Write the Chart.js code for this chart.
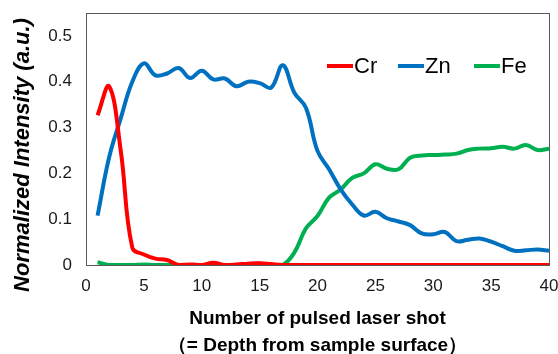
<!DOCTYPE html>
<html>
<head>
<meta charset="utf-8">
<script src="https://cdn.jsdelivr.net/npm/chart.js@4.4.1/dist/chart.umd.min.js"></script>
<style>
  html, body { margin: 0; padding: 0; background: #fff; }
  #wrap { width: 558px; height: 354px; }
</style>
</head>
<body>
<div id="wrap"><canvas id="depthChart"></canvas></div>
<script>
// laser shot number (x) and normalized intensities
const shots = [1,2,3,4,5,6,7,8,9,10,11,12,13,14,15,16,17,18,19,20,
               21,22,23,24,25,26,27,28,29,30,31,32,33,34,35,36,37,38,39,40];
const cr = [0.327,0.39,0.25,0.038,0.023,0.014,0.011,0.0,0.001,0.0,0.005,0.0,0.001,0.003,0.004,0.002,0.0,0.0,0.0,0.0,
            0,0,0,0,0,0,0,0,0,0,0,0,0,0,0,0,0,0,0,0];
const zn = [0.108,0.235,0.32,0.40,0.44,0.414,0.418,0.43,0.408,0.424,0.405,0.407,0.39,0.40,0.397,0.387,0.436,0.376,0.343,0.249,
            0.209,0.165,0.132,0.108,0.116,0.102,0.095,0.087,0.069,0.067,0.072,0.052,0.055,0.058,0.051,0.041,0.031,0.032,0.034,0.031];
const fe = [0.006,0.0,0.0,0.0,0.001,0.0,0.0,0.0,0.0,0.0,0.0,0.0,0.0,0.0,0.0,0.0,0.0,0.027,0.08,0.107,
            0.147,0.165,0.19,0.20,0.22,0.21,0.209,0.234,0.239,0.24,0.241,0.243,0.251,0.254,0.255,0.258,0.254,0.262,0.251,0.254];
const xTicks = [0,5,10,15,20,25,30,35,40];
const yTicks = [0,0.1,0.2,0.3,0.4,0.5];

function pts(vals) {
    return shots.map((s, i) => ({ x: s, y: vals[i] }));
}

// box around the plot area
const frame = {
    id: 'frame',
    beforeDatasetsDraw(chart) {
        const a = chart.chartArea, ctx = chart.ctx;
        ctx.save();
        ctx.strokeStyle = '#595959';
        ctx.lineWidth = 1;
        ctx.strokeRect(Math.round(a.left) + 0.5, Math.round(a.top) + 0.5,
                       Math.round(a.right - a.left), Math.round(a.bottom - a.top));
        ctx.restore();
    }
};

// y title and inside legend
const extras = {
    id: 'extras',
    afterDraw(chart) {
        const ctx = chart.ctx;
        ctx.save();
        ctx.fillStyle = '#000';
        ctx.font = 'italic bold 22px "Liberation Sans", Arial, sans-serif';
        ctx.textAlign = 'center';
        ctx.textBaseline = 'middle';
        ctx.translate(23, 155);
        ctx.rotate(-Math.PI / 2);
        ctx.fillText('Normalized Intensity (a.u.)', 0, 0);
        ctx.restore();

        ctx.save();
        ctx.font = '22px "Liberation Sans", Arial, sans-serif';
        ctx.textBaseline = 'middle';
        const starts = [327, 398, 474];
        chart.data.datasets.forEach((ds, i) => {
            const x = starts[i], y = 66;
            ctx.strokeStyle = ds.borderColor;
            ctx.lineWidth = 4;
            ctx.beginPath();
            ctx.moveTo(x, y);
            ctx.lineTo(x + 26, y);
            ctx.stroke();
            ctx.fillStyle = '#000';
            ctx.fillText(ds.label, x + 27, y + 1);
        });
        ctx.restore();
    }
};

const ctx = document.getElementById('depthChart').getContext('2d');
new Chart(ctx, {
    type: 'line',
    data: {
        datasets: [
            { label: 'Cr', data: pts(cr), borderColor: '#FF0000' },
            { label: 'Zn', data: pts(zn), borderColor: '#0070C0' },
            { label: 'Fe', data: pts(fe), borderColor: '#00B050' }
        ]
    },
    options: {
        responsive: true,
        maintainAspectRatio: false,
        animation: false,
        layout: { padding: { top: 13, right: 9, left: 0, bottom: 0 } },
        elements: {
            line: { borderWidth: 4, tension: 0.4, fill: false },
            point: { radius: 0 }
        },
        plugins: {
            legend: { display: false },
            tooltip: { enabled: false }
        },
        scales: {
            x: {
                type: 'linear',
                min: 0,
                max: 40,
                afterBuildTicks: (s) => { s.ticks = xTicks.map(v => ({ value: v })); },
                afterFit: (s) => { s.height = 89; s.paddingRight = 0; s.paddingLeft = 0; },
                grid: { display: false, drawTicks: false },
                border: { display: false },
                ticks: {
                    padding: 11,
                    color: '#1a1a1a',
                    font: { family: '"Liberation Sans", Arial, sans-serif', size: 17 }
                },
                title: {
                    display: true,
                    text: ['Number of pulsed laser shot', '（= Depth from sample surface）'],
                    color: '#000',
                    padding: { top: 0, bottom: -5 },
                    font: { family: '"Liberation Sans", Arial, sans-serif', size: 19, weight: 'bold', lineHeight: '27px' }
                }
            },
            y: {
                min: 0,
                max: 0.55,
                afterBuildTicks: (s) => { s.ticks = yTicks.map(v => ({ value: v })); },
                afterFit: (s) => { s.width = 86; s.paddingTop = 0; s.paddingBottom = 0; },
                grid: { display: false, drawTicks: false },
                border: { display: false },
                ticks: {
                    padding: 14,
                    color: '#1a1a1a',
                    font: { family: '"Liberation Sans", Arial, sans-serif', size: 17 },
                    callback: (v) => v === 0 ? '0' : v.toFixed(1)
                }
            }
        }
    },
    plugins: [frame, extras]
});
</script>
</body>
</html>
